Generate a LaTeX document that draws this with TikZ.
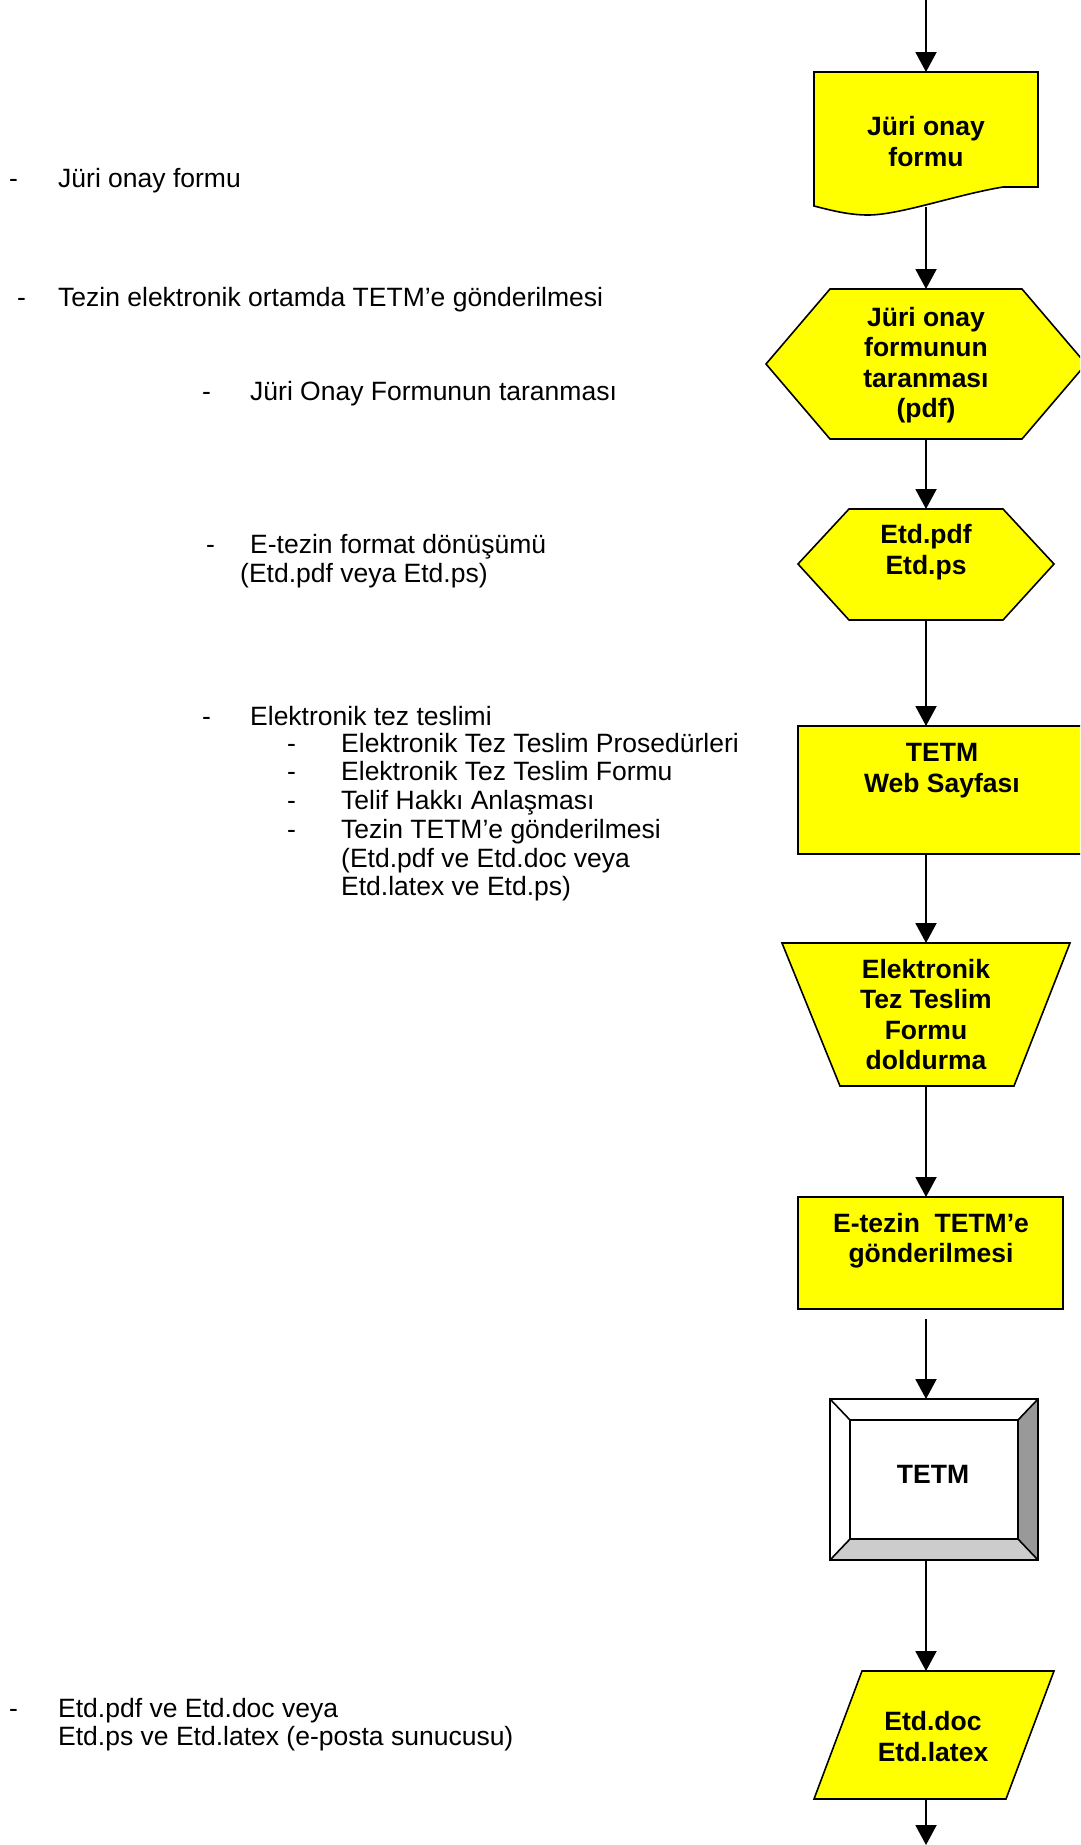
\documentclass[tikz,border=0pt]{standalone}
\usepackage{fontspec}
\setmainfont{Liberation Sans}
\usetikzlibrary{arrows.meta}
\newcommand\ms{\rule[-5pt]{0pt}{28pt}}
\definecolor{shyellow}{HTML}{FFFF00}
\definecolor{bevdark}{HTML}{999999}
\definecolor{bevlight}{HTML}{CCCCCC}
\begin{document}
\begin{tikzpicture}[x=1pt,y=-1pt,
  arr/.style={line width=2pt,-{Triangle[length=20pt,width=21pt]}},
  shp/.style={draw=black,line width=1.6pt,fill=shyellow,line join=miter},
  bev/.style={draw=black,line width=1.6pt},
  stxt/.style={font=\fontsize{26.5}{30.5}\selectfont\bfseries,align=center,inner sep=0pt},
  ltxt/.style={font=\fontsize{26.5}{28.7}\selectfont,align=left,inner sep=0pt,anchor=north west}]
\useasboundingbox (0,0) rectangle (1080,1845);
\clip (0,0) rectangle (1080,1845);
\fill[white] (0,0) rectangle (1080,1845);

% ---------- shapes ----------
% document shape
\draw[shp] (814,72) -- (1038,72) -- (1038,187) -- (1003,187)
  .. controls (955,195) and (900,215) .. (868,215)
  .. controls (848,215) and (830,210) .. (814,206) -- cycle;
\node[stxt] (n1) at (926,142) {\ms Jüri onay\\\ms formu};
\coordinate (start) at (926,0);
\coordinate (n1T) at (926,72);
\coordinate (n1B) at (926,207);

% hexagon 1
\draw[shp] (766,364) -- (830,289) -- (1022,289) -- (1086,364) -- (1022,439) -- (830,439) -- cycle;
\node[stxt] (n2) at (926,363) {\ms Jüri onay\\\ms formunun\\\ms taranması\\\ms (pdf)};
\coordinate (n2T) at (926,289);
\coordinate (n2B) at (926,439);

% hexagon 2
\draw[shp] (798,564) -- (849,509) -- (1003,509) -- (1054,564) -- (1003,620) -- (849,620) -- cycle;
\node[stxt] (n3) at (926,550) {\ms Etd.pdf\\\ms Etd.ps};
\coordinate (n3T) at (926,509);
\coordinate (n3B) at (926,620);

% rectangle TETM web
\draw[shp] (798,726) rectangle (1086,854);
\node[stxt] (n4) at (942,768) {\ms TETM\\\ms Web Sayfası};
\coordinate (n4T) at (926,726);
\coordinate (n4B) at (926,854);

% trapezoid
\draw[shp] (782,943) -- (1070,943) -- (1014,1086) -- (840,1086) -- cycle;
\node[stxt] (n5) at (926,1015) {\ms Elektronik\\\ms Tez Teslim\\\ms Formu\\\ms doldurma};
\coordinate (n5T) at (926,943);
\coordinate (n5B) at (926,1086);

% rectangle E-tezin
\draw[shp] (798,1197) rectangle (1063,1309);
\node[stxt] (n6) at (931,1239) {\ms E-tezin~~TETM’e\\\ms gönderilmesi};
\coordinate (n6T) at (926,1197);
\coordinate (n6B) at (926,1319);

% bevel TETM
\fill[white] (830,1399) rectangle (1038,1560);
\fill[bevdark] (1018,1420) -- (1038,1399) -- (1038,1560) -- (1018,1539) -- cycle;
\fill[bevlight] (850,1539) -- (1018,1539) -- (1038,1560) -- (830,1560) -- cycle;
\draw[bev] (830,1399) rectangle (1038,1560);
\draw[bev] (850,1420) rectangle (1018,1539);
\draw[bev] (830,1399) -- (850,1420);
\draw[bev] (1038,1399) -- (1018,1420);
\draw[bev] (830,1560) -- (850,1539);
\draw[bev] (1038,1560) -- (1018,1539);
\node[stxt] (n7) at (933,1474) {\ms TETM};
\coordinate (n7T) at (926,1399);
\coordinate (n7B) at (926,1560);

% parallelogram
\draw[shp] (862,1671) -- (1054,1671) -- (1006,1799) -- (814,1799) -- cycle;
\node[stxt] (n8) at (933,1737) {\ms Etd.doc\\\ms Etd.latex};
\coordinate (n8T) at (926,1671);
\coordinate (n8B) at (926,1799);
\coordinate (end) at (926,1845);

% ---------- connectors ----------
\draw[arr] (start) -- (n1T);
\draw[arr] (n1B) -- (n2T);
\draw[arr] (n2B) -- (n3T);
\draw[arr] (n3B) -- (n4T);
\draw[arr] (n4B) -- (n5T);
\draw[arr] (n5B) -- (n6T);
\draw[arr] (n6B) -- (n7T);
\draw[arr] (n7B) -- (n8T);
\draw[arr] (n8B) -- (end);

% ---------- left texts ----------
\node[ltxt] (d1) at (9,164) {\ms -};
\node[ltxt] (l1) at (58,164) {\ms Jüri onay formu};
\node[ltxt] (d2) at (17,283) {\ms -};
\node[ltxt] (l2) at (58,283) {\ms Tezin elektronik ortamda TETM’e gönderilmesi};
\node[ltxt] (d3) at (202,377) {\ms -};
\node[ltxt] (l3) at (250,377) {\ms Jüri Onay Formunun taranması};
\node[ltxt] (d4) at (206,530) {\ms -};
\node[ltxt] (l4) at (250,530) {\ms E-tezin format dönüşümü};
\node[ltxt] (l4b) at (240,559) {\ms (Etd.pdf veya Etd.ps)};
\node[ltxt] (d5) at (202,702) {\ms -};
\node[ltxt] (l5) at (250,702) {\ms Elektronik tez teslimi};
\node[ltxt] (d5s) at (287,729) {\ms -\\\ms -\\\ms -\\\ms -};
\node[ltxt] (l5s) at (341,729) {\ms Elektronik Tez Teslim Prosedürleri\\\ms Elektronik Tez Teslim Formu\\\ms Telif Hakkı Anlaşması\\\ms Tezin TETM’e gönderilmesi\\\ms (Etd.pdf ve Etd.doc veya\\\ms Etd.latex ve Etd.ps)};
\node[ltxt] (d6) at (9,1694) {\ms -};
\node[ltxt] (l6) at (58,1694) {\ms Etd.pdf ve Etd.doc veya\\\ms Etd.ps ve Etd.latex (e-posta sunucusu)};
\end{tikzpicture}
\end{document}
